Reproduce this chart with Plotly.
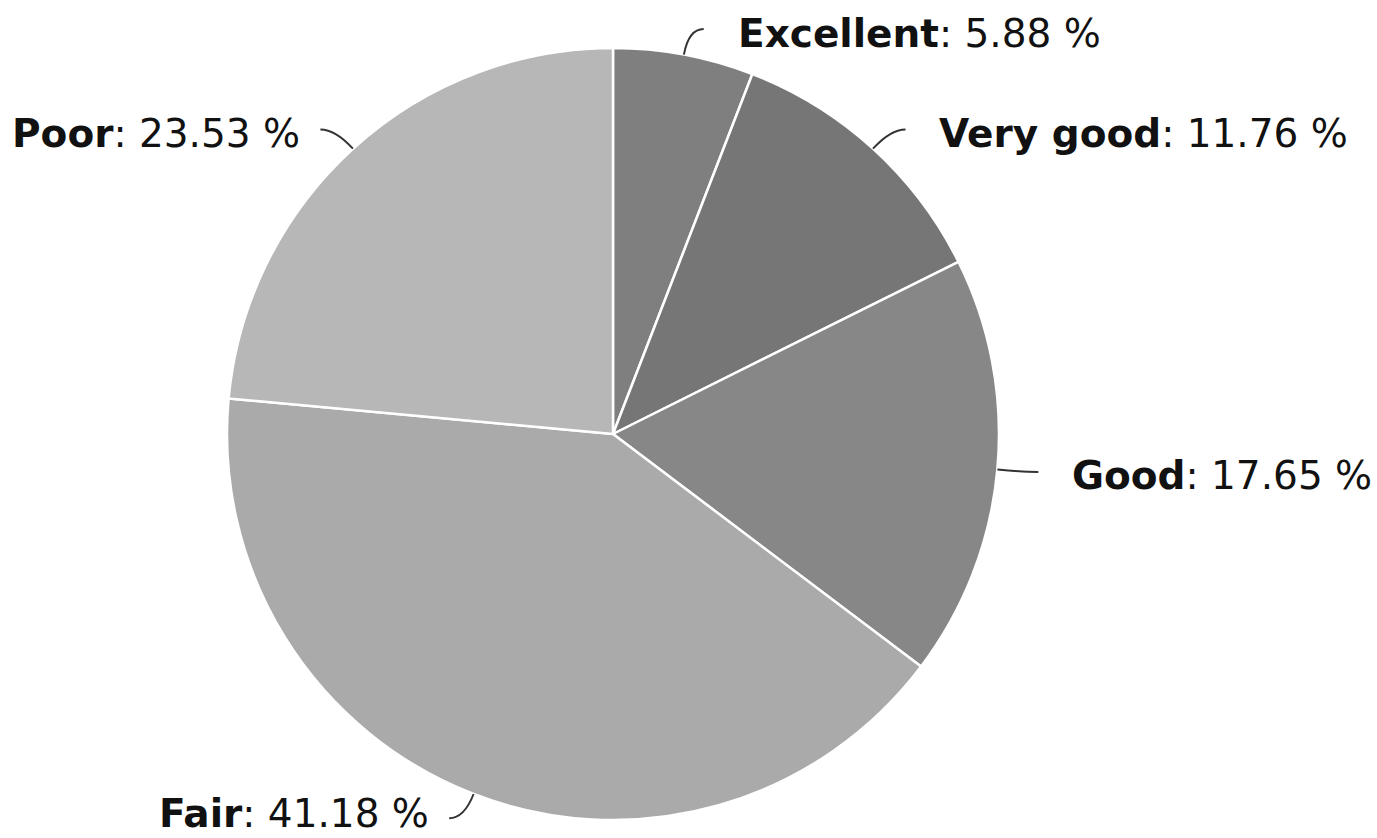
import math
import plotly.graph_objects as go

W, H = 1377, 838

# Survey response shares (percent), drawn clockwise from 12 o'clock
categories = ["Excellent", "Very good", "Good", "Fair", "Poor"]
shares = [5.88, 11.76, 17.65, 41.18, 23.53]
slice_colors = ["#7f7f7f", "#767676", "#878787", "#aaaaaa", "#b7b7b7"]

# Pie placement in pixels
cx, cy, r = 613, 434, 386
font_size = 39

fig = go.Figure()

fig.add_trace(go.Pie(
    labels=categories,
    values=shares,
    sort=False,
    direction="clockwise",
    rotation=0,
    textinfo="none",
    hoverinfo="label+percent",
    marker=dict(colors=slice_colors, line=dict(color="#ffffff", width=2.5)),
    domain=dict(x=[(cx - r) / W, (cx + r) / W],
                y=[1 - (cy + r) / H, 1 - (cy - r) / H]),
    showlegend=False,
))

# Invisible pixel-space axes for leader lines and labels
fig.update_xaxes(range=[0, W], visible=False, fixedrange=True)
fig.update_yaxes(range=[H, 0], visible=False, fixedrange=True)

total = sum(shares)
cum = 0.0
shapes = []
annotations = []
for name, v in zip(categories, shares):
    mid = (cum + v / 2) / total * 2 * math.pi
    cum += v
    sx, sy = math.sin(mid), -math.cos(mid)
    x0, y0 = cx + r * sx, cy + r * sy
    x1, y1 = cx + (r + 26) * sx, cy + (r + 26) * sy
    side = 1 if sx >= 0 else -1
    x2, y2 = x1 + side * 15, y1
    shapes.append(dict(
        type="path", xref="x", yref="y",
        path=f"M {x0:.1f},{y0:.1f} Q {x1:.1f},{y1:.1f} {x2:.1f},{y2:.1f}",
        line=dict(color="#333333", width=2),
    ))
    # keep label boxes inside the page
    ly = min(max(y2 + 4, 0.62 * font_size), H - 0.62 * font_size)
    annotations.append(dict(
        x=x2 + side * (32 if side > 0 else 18), y=ly, xref="x", yref="y",
        text=f"<b>{name}</b>: {v:.2f} %",
        showarrow=False,
        xanchor="left" if side > 0 else "right",
        yanchor="middle",
        font=dict(family="DejaVu Sans", size=font_size, color="#111111"),
    ))

fig.update_layout(
    width=W, height=H,
    margin=dict(l=0, r=0, t=0, b=0),
    paper_bgcolor="#ffffff",
    plot_bgcolor="rgba(0,0,0,0)",
    shapes=shapes,
    annotations=annotations,
)

fig.write_html("out.html")
